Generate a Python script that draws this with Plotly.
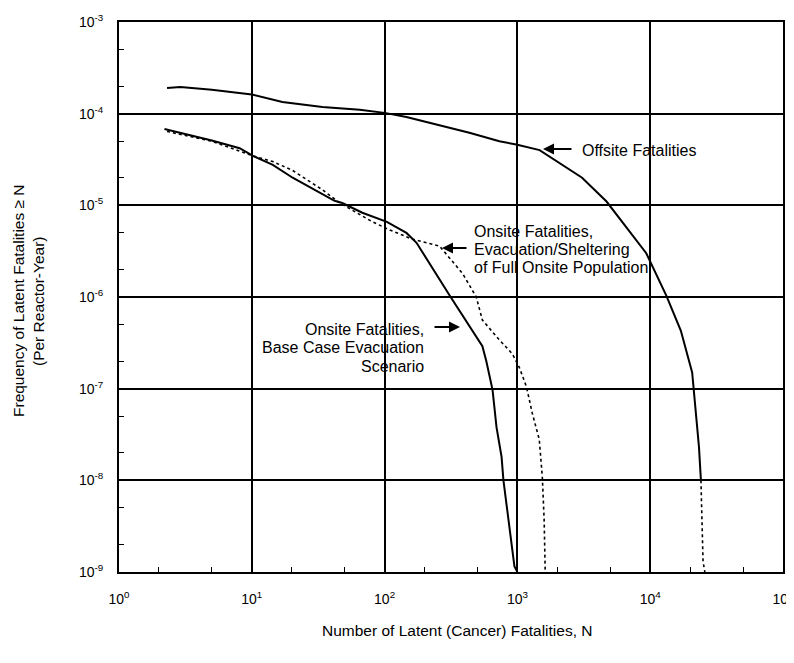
import plotly.graph_objects as go

# ---- data ----
offsite_n = [2.3, 2.9, 5, 8.1, 10, 17, 34, 65, 100, 146, 259, 435, 732, 980, 1470,
             3070, 4690, 6600, 9340, 13200, 17000, 20700, 23300, 24100]
offsite_f = [1.9e-4, 1.95e-4, 1.82e-4, 1.68e-4, 1.62e-4, 1.34e-4, 1.18e-4, 1.1e-4, 1.02e-4,
             9.2e-5, 7.5e-5, 6.2e-5, 5.0e-5, 4.6e-5, 4.0e-5, 2.0e-5, 1.1e-5, 5.8e-6, 3.0e-6,
             1.04e-6, 4.3e-7, 1.5e-7, 2.3e-8, 1.0e-8]
offsite_tail_n = [24100, 25000, 25800]
offsite_tail_f = [1.0e-8, 1.3e-9, 1.0e-9]

base_n = [2.2, 5, 8.1, 10.2, 14.4, 20.3, 42, 48, 68, 104, 146, 174, 309, 545, 583, 650,
          696, 760, 785, 950, 1000]
base_f = [6.8e-5, 5.1e-5, 4.2e-5, 3.46e-5, 2.76e-5, 2.0e-5, 1.12e-5, 1.06e-5, 8.3e-6, 6.6e-6,
          5.0e-6, 3.9e-6, 1.04e-6, 2.9e-7, 2.0e-7, 9.7e-8, 3.8e-8, 1.8e-8, 1.0e-8, 1.15e-9, 1.0e-9]

full_n = [2.3, 5, 10.2, 14.4, 20.3, 34, 46, 81, 109, 160, 259, 387, 490, 545, 732, 916, 1035,
          1170, 1290, 1460, 1540, 1590, 1620]
full_f = [6.4e-5, 5.0e-5, 3.46e-5, 3.0e-5, 2.4e-5, 1.48e-5, 1.06e-5, 6.6e-6, 5.4e-6, 4.3e-6,
          3.6e-6, 1.8e-6, 1.0e-6, 5.6e-7, 3.4e-7, 2.4e-7, 1.7e-7, 1.05e-7, 5.5e-8, 2.8e-8,
          1.1e-8, 3.7e-9, 1.0e-9]

x_tickvals = [1, 10, 100, 1000, 10000, 100000]
x_ticktext = ["10<sup>0</sup>", "10<sup>1</sup>", "10<sup>2</sup>", "10<sup>3</sup>",
              "10<sup>4</sup>", "10<sup>5</sup>"]
y_tickvals = [1e-3, 1e-4, 1e-5, 1e-6, 1e-7, 1e-8, 1e-9]
y_ticktext = ["10<sup>-3</sup>", "10<sup>-4</sup>", "10<sup>-5</sup>", "10<sup>-6</sup>",
              "10<sup>-7</sup>", "10<sup>-8</sup>", "10<sup>-9</sup>"]

offsite_label = ["Offsite Fatalities"]
full_label = ["Onsite Fatalities,", "Evacuation/Sheltering", "of Full Onsite Population"]
base_label = ["Onsite Fatalities,", "Base Case Evacuation", "Scenario"]
x_title = "Number of Latent (Cancer) Fatalities, N"
y_title = ["Frequency of Latent Fatalities ≥ N", "(Per Reactor-Year)"]

FONT = "Liberation Sans, Arial, sans-serif"

fig = go.Figure()
line_solid = dict(color="black", width=2)
fig.add_trace(go.Scatter(x=offsite_n, y=offsite_f, mode="lines", line=line_solid,
                         name="Offsite Fatalities"))
fig.add_trace(go.Scatter(x=offsite_tail_n, y=offsite_tail_f, mode="lines",
                         line=dict(color="black", width=1.6, dash="dot"), showlegend=False))
fig.add_trace(go.Scatter(x=base_n, y=base_f, mode="lines", line=line_solid,
                         name="Onsite, Base Case"))
fig.add_trace(go.Scatter(x=full_n, y=full_f, mode="lines",
                         line=dict(color="black", width=1.6, dash="dot"),
                         name="Onsite, Full Population"))

axis_common = dict(
    type="log", showline=True, linecolor="black", linewidth=2, mirror=True,
    showgrid=True, gridcolor="black", gridwidth=2, zeroline=False, automargin=False,
    ticks="inside", tickcolor="black", ticklen=7, tickwidth=1.5,
    tickfont=dict(family=FONT, size=14, color="black"),
    ticklabeloverflow="allow",
    minor=dict(ticks="inside", ticklen=5, tickcolor="black", tickwidth=1.2, showgrid=False),
)

# page body has an 8px margin, so the figure is 786x655 and starts at (8, 8)
fig.update_layout(
    width=786, height=655,
    margin=dict(l=111, r=11, t=14, b=91, autoexpand=False),
    paper_bgcolor="white", plot_bgcolor="white",
    showlegend=False,
    font=dict(family=FONT, color="black"),
    xaxis=dict(axis_common, range=[0, 5], tickvals=x_tickvals, ticktext=x_ticktext,
               ticklabelstandoff=13),
    yaxis=dict(axis_common, range=[-9, -3], tickvals=y_tickvals, ticktext=y_ticktext,
               ticklabelstandoff=11),
)

ann_font = dict(family=FONT, size=16, color="black")
title_font = dict(family=FONT, size=15.5, color="black")


def ly(py):
    # absolute page pixel row -> log10 data value
    return -3 - (py - 22) / 91.67


def lx(px):
    return (px - 119) / 132.8


annotations = [
    # arrows
    dict(x=lx(543), y=ly(149), ax=30, ay=0, text="", showarrow=True, arrowhead=2,
         arrowsize=1.1, arrowwidth=2, arrowcolor="black", standoff=0),
    dict(x=lx(442), y=ly(248), ax=26, ay=0, text="", showarrow=True, arrowhead=2,
         arrowsize=1.1, arrowwidth=2, arrowcolor="black", standoff=0),
    dict(x=lx(460), y=ly(327), ax=-27, ay=0, text="", showarrow=True, arrowhead=2,
         arrowsize=1.1, arrowwidth=2, arrowcolor="black", standoff=0),
    dict(x=lx(580), y=ly(150), text=offsite_label[0], showarrow=False,
         xanchor="left", yanchor="middle", font=ann_font),
    # axis titles
    dict(xref="paper", yref="paper", x=(457 - 119) / 664, y=(572 - 630) / 550,
         text=x_title, showarrow=False, xanchor="center", yanchor="middle", font=title_font),
]
for txt, py in zip(full_label, [232, 250, 268]):
    annotations.append(dict(x=lx(472), y=ly(py), text=txt, showarrow=False,
                            xanchor="left", yanchor="middle", font=ann_font))
for txt, py in zip(base_label, [330, 348, 367]):
    annotations.append(dict(x=lx(426), y=ly(py), text=txt, showarrow=False,
                            xanchor="right", yanchor="middle", font=ann_font))
for txt, px in zip(y_title, [18, 38]):
    annotations.append(dict(xref="paper", yref="paper", x=(px - 119) / 664,
                            y=(572 - 301) / 550, text=txt, showarrow=False, textangle=-90,
                            xanchor="center", yanchor="middle", font=title_font))
fig.update_layout(annotations=annotations)

fig.write_html("out.html")
